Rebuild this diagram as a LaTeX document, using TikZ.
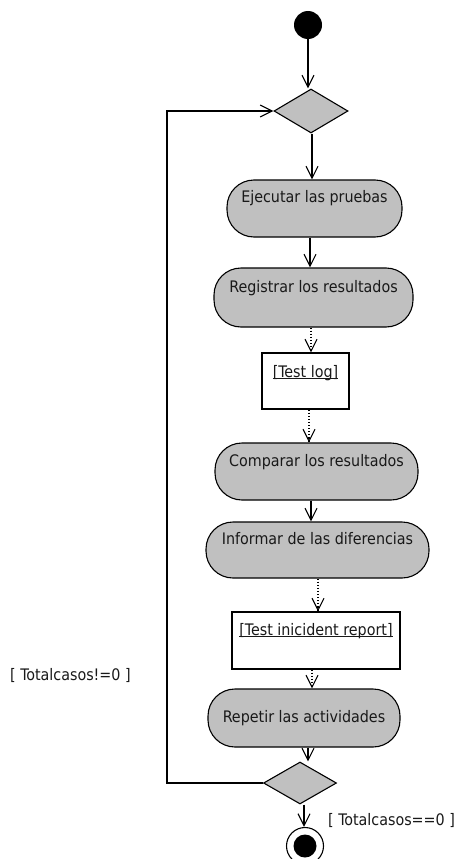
\documentclass[tikz,border=0pt]{standalone}
\usepackage{fontspec}
\setmainfont{DejaVu Sans Condensed}
\usetikzlibrary{arrows.meta,shapes.geometric,calc}

% underline with a firm rule for object names
\newcommand\objname[1]{\setbox0\hbox{#1}\rlap{\rule[-2.4pt]{\wd0}{1.4pt}}\box0}

\begin{document}
\begin{tikzpicture}[x=1pt,y=-1pt,
  every node/.style={font=\fontsize{15.9}{18}\selectfont, text=black!90},
  base/.style={line width=1.1pt},
  activity/.style={base, draw, fill=actgray, rectangle, rounded corners=27pt,
    inner xsep=0pt, inner ysep=0pt, align=center},
  objbox/.style={base, draw, fill=white, rectangle, inner xsep=0pt, inner ysep=0pt},
  decision/.style={base, draw, fill=actgray, diamond, inner sep=0pt},
  flow/.style={base, -{Straight Barb[length=12pt,width=12pt,line width=1.1pt]}},
  objflow/.style={base, dotted, -{Straight Barb[length=12pt,width=12pt,line width=1.1pt]}},
  guard/.style={anchor=base west, inner sep=0pt}
]
\definecolor{actgray}{HTML}{C0C0C0}
\useasboundingbox (0,0) rectangle (460,859);

% initial and decision nodes
\node[circle, fill=black, minimum size=28pt, inner sep=0pt] (start) at (308,25) {};
\node[decision, minimum width=74pt, minimum height=44pt] (d1) at (311,111) {};

% activities
\node[activity, minimum width=175pt, text height=22pt, text depth=35pt] (ej) at (314.5,208.5) {Ejecutar las pruebas};
\node[activity, minimum width=199pt, text height=24pt, text depth=35pt] (reg) at (313.5,297.5) {Registrar los resultados};
\node[objbox, minimum width=87pt, text height=24pt, text depth=32pt] (log) at (305.5,381) {\objname{[Test log]}};
\node[activity, minimum width=203pt, text height=23pt, text depth=34pt] (comp) at (316.5,471.5) {Comparar los resultados};
\node[activity, minimum width=223pt, text height=22pt, text depth=34pt] (inf) at (317.5,550) {Informar de las diferencias};
\node[objbox, minimum width=168pt, text height=23pt, text depth=34pt] (rpt) at (316,640.5) {\objname{[Test inicident report]}};
\node[activity, minimum width=192pt, text height=33pt, text depth=25pt] (rep) at (304,718) {Repetir las actividades};
\node[decision, minimum width=73pt, minimum height=42pt] (d2) at (300,783) {};

% final node
\node[base, circle, draw, fill=white, minimum size=37pt, inner sep=0pt] (fin) at (305,846) {};
\node[circle, fill=black, minimum size=23pt, inner sep=0pt] (finin) at (fin) {};

% guards
\node[guard] (gloop) at (10,680) {[ Totalcasos!=0 ]};
\node[guard] (gend) at (328,825) {[ Totalcasos==0 ]};

% control flow
\draw[flow] (start.south) -- (start.south |- d1.north);
\draw[flow] ([xshift=1pt]d1.south) -- ([xshift=1pt]d1.south |- ej.north);
\draw[flow] ([xshift=-4.5pt]ej.south) -- ([xshift=-4.5pt]ej.south |- reg.north);
\draw[flow] ([xshift=-5.5pt]comp.south) -- ([xshift=-5.5pt]comp.south |- inf.north);
\draw[flow] ([xshift=4pt]rep.south) -- ([xshift=4pt]rep.south |- d2.north);
\draw[flow] ([xshift=4pt]d2.south) -- ([xshift=4pt]d2.south |- fin.north);

% object flow
\draw[objflow] ([xshift=-2.5pt]reg.south) -- ([xshift=-2.5pt]reg.south |- log.north);
\draw[objflow] ([xshift=3.5pt]log.south) -- ([xshift=3.5pt]log.south |- comp.north);
\draw[objflow] ([xshift=0.5pt]inf.south) -- ([xshift=0.5pt]inf.south |- rpt.north);
\draw[objflow] ([xshift=-4pt]rpt.south) -- ([xshift=-4pt]rpt.south |- rep.north);

% loop back to the first decision
\coordinate (loopx) at (167,450);
\draw[flow] (d2.west) -| (loopx) |- (d1.west);
\end{tikzpicture}
\end{document}
